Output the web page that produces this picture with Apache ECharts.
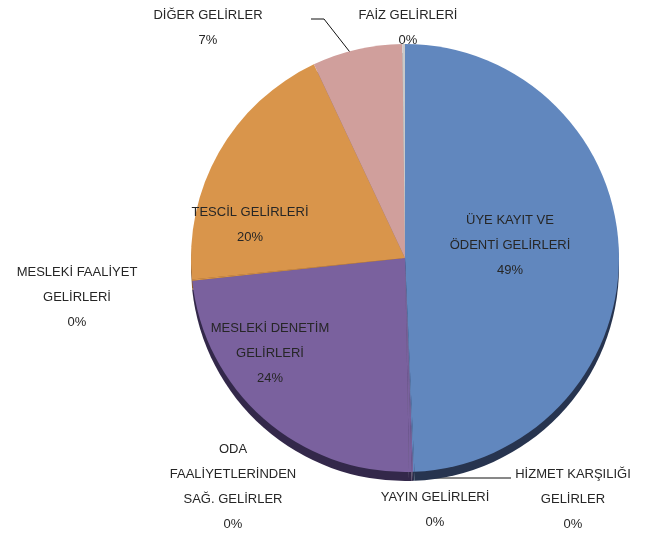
<!DOCTYPE html>
<html lang="tr">
<head>
  <meta charset="UTF-8">
  <title>Gelir Dağılımı</title>
  <script src="https://cdn.jsdelivr.net/npm/echarts@6/dist/echarts.min.js"></script>
  <style>
    body { margin: 0; background: #fff; }
    #chart { width: 665px; height: 537px; }
  </style>
</head>
<body>
  <div id="chart"></div>
  <script>
    // dilimler saat yönünde, tepeden başlayarak
    var categories = [
      'ÜYE KAYIT VE\nÖDENTİ GELİRLERİ',
      'HİZMET KARŞILIĞI\nGELİRLER',
      'YAYIN GELİRLERİ',
      'ODA\nFAALİYETLERİNDEN\nSAĞ. GELİRLER',
      'MESLEKİ DENETİM\nGELİRLERİ',
      'MESLEKİ FAALİYET\nGELİRLERİ',
      'TESCİL GELİRLERİ',
      'DİĞER GELİRLER',
      'FAİZ GELİRLERİ'
    ];
    var shares = [49.3, 0.1, 0.1, 0.2, 23.6, 0.1, 19.6, 6.8, 0.2];

    var colors = ['#6187be', '#6187be', '#7a619e', '#7a619e', '#7a619e', '#d9954b', '#d9954b', '#d09f9c', '#c9c9c9'];
    var rimColors = ['#27344f', '#27344f', '#33284a', '#33284a', '#33284a', '#8a5a2a', '#8a5a2a', '#8a6461', '#888888'];
    var insideIdx = [0, 4, 6];
    // etiket merkezleri (px)
    var labelPos = [[510, 245], [573, 499], [435, 510], [233, 487], [270, 353], [77, 297], [250, 225], [208, 28], [408, 28]];
    // iki etiketin çizgisi
    var leaderLines = {
      1: [[414, 470], [420, 478], [511, 478]],
      7: [[353, 56], [324, 19], [311, 19]]
    };

    var chart = echarts.init(document.getElementById('chart'));

    var mainData = categories.map(function (name, i) {
      var inside = insideIdx.indexOf(i) >= 0;
      return {
        name: name,
        value: shares[i],
        itemStyle: { color: colors[i] },
        label: { position: inside ? 'inside' : 'outside' },
        labelLine: { show: !!leaderLines[i] }
      };
    });
    var rimData = categories.map(function (name, i) {
      return { name: name, value: shares[i], itemStyle: { color: rimColors[i] } };
    });

    chart.setOption({
      animation: false,
      series: [
        {
          type: 'pie',
          silent: true,
          center: [405, 267],
          radius: 214,
          label: { show: false },
          labelLine: { show: false },
          itemStyle: { borderWidth: 0 },
          data: rimData
        },
        {
          type: 'pie',
          center: [405, 258],
          radius: 214,
          itemStyle: { borderWidth: 0 },
          label: {
            color: '#262626',
            fontFamily: 'Liberation Sans',
            fontSize: 13,
            lineHeight: 25,
            align: 'center',
            overflow: 'none',
            alignTo: 'none',
            formatter: function (p) {
              return p.name + '\n' + Math.round(p.percent) + '%';
            }
          },
          labelLine: { lineStyle: { color: '#111', width: 1, opacity: 1 }, length: 10, length2: 10 },
          labelLayout: function (p) {
            var pos = labelPos[p.dataIndex];
            var out = { x: pos[0], y: pos[1], align: 'center', verticalAlign: 'middle' };
            if (leaderLines[p.dataIndex]) out.labelLinePoints = leaderLines[p.dataIndex];
            return out;
          },
          data: mainData
        }
      ]
    });
  </script>
</body>
</html>
